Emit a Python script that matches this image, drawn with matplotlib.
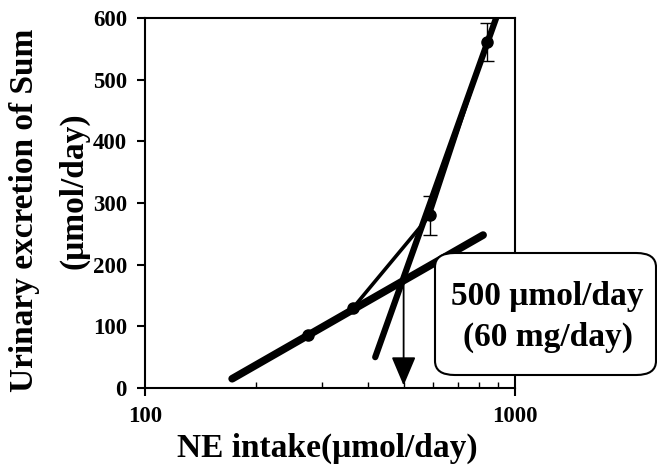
import numpy as np
import matplotlib
matplotlib.use("Agg")
import matplotlib.pyplot as plt
from matplotlib.patches import FancyBboxPatch
from matplotlib.ticker import FixedLocator, NullFormatter

plt.rcParams['font.family'] = ['Liberation Serif', 'DejaVu Serif']
plt.rcParams['font.weight'] = 'bold'

# measured points
intake = [276, 365, 589, 840]
excretion = [86, 130, 280, 561]
err = [0, 0, 32, 31]

# two fitted lines
low_x = [172, 820]
low_y = [15, 248]
steep_x = [419, 893]
steep_y = [50, 603]

breakpoint_x = 500
breakpoint_y = 172

fig = plt.figure(figsize=(6.57, 4.68), dpi=100)
ax = fig.add_axes([145 / 657, 80 / 468, 370 / 657, 370 / 468])

ax.plot(intake, excretion, color='k', lw=2.6, zorder=3)
ax.errorbar(intake[2:], excretion[2:], yerr=err[2:], fmt='none', ecolor='k',
            elinewidth=1, capsize=5, capthick=1, zorder=3)
ax.plot(intake, excretion, 'o', color='k', ms=8, zorder=4)
ax.plot(low_x, low_y, color='k', lw=5.5, solid_capstyle='round', zorder=3)
ax.plot(steep_x, steep_y, color='k', lw=4.5, solid_capstyle='round', zorder=3)

ax.annotate('', xy=(breakpoint_x, 4), xytext=(breakpoint_x, breakpoint_y),
            arrowprops=dict(arrowstyle='-|>,head_length=0.9,head_width=0.38',
                            mutation_scale=20, color='k', lw=1.3,
                            shrinkA=0, shrinkB=0), zorder=3)

ax.set_xscale('log')
ax.set_xlim(100, 1000)
ax.set_ylim(0, 600)
ax.set_yticks([0, 100, 200, 300, 400, 500, 600])
ax.set_xticks([100, 1000])
ax.set_xticklabels(['100', '1000'])
ax.xaxis.set_minor_locator(FixedLocator([200, 300, 400, 500, 600, 700, 800, 900]))
ax.xaxis.set_minor_formatter(NullFormatter())
ax.tick_params(axis='y', direction='out', length=6, width=1.5, pad=7, labelsize=16.5)
ax.tick_params(axis='x', which='major', direction='out', length=6, width=1.5,
               pad=7, labelsize=16.5)
ax.tick_params(axis='x', which='minor', direction='in', length=4, width=1)
for s in ax.spines.values():
    s.set_linewidth(1.5)

fig.text(327 / 657, 1 - 448 / 468, 'NE intake(\u03bcmol/day)', ha='center',
         va='center', fontsize=24, fontweight='bold')
fig.text(25 / 657, 1 - 210 / 468, 'Urinary excretion of Sum', ha='center',
         va='center', rotation=90, fontsize=24, fontweight='bold')
fig.text(74 / 657, 1 - 191 / 468, '(\u03bcmol/day)', ha='center',
         va='center', rotation=90, fontsize=24, fontweight='bold')

box = FancyBboxPatch((435 / 657, 1 - 375 / 468), 221 / 657, 122 / 468,
                     boxstyle='round,pad=0,rounding_size=0.03',
                     transform=fig.transFigure, facecolor='white',
                     edgecolor='k', lw=1.5, zorder=10)
fig.patches.append(box)
fig.text(547 / 657, 1 - 297 / 468, '500 \u03bcmol/day', ha='center', va='center',
         fontsize=24, fontweight='bold', zorder=11)
fig.text(548 / 657, 1 - 337 / 468, '(60 mg/day)', ha='center', va='center',
         fontsize=24, fontweight='bold', zorder=11)

fig.savefig('out.png', dpi=100)
